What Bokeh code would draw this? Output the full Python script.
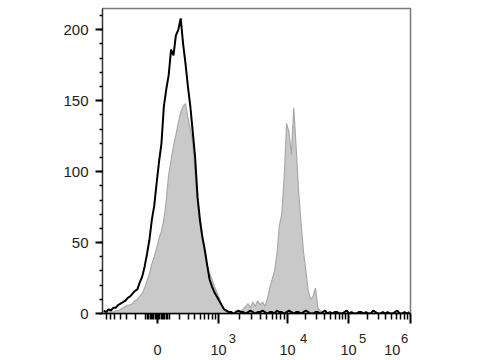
import numpy as np
from bokeh.plotting import figure
from bokeh.models import Range1d, FixedTicker, SingleIntervalTicker, ColumnDataSource, LinearAxis
from bokeh.embed import file_html
from bokeh.resources import INLINE

# ---------------- data (counts per display bin, 128 bins across the axis) ----------------
isotype_counts = [
    2, 1, 3, 2, 4, 4, 6, 7, 8, 9,
    11, 12, 14, 16, 17, 22, 26, 33, 42, 52,
    66, 76, 92, 107, 120, 146, 158, 168, 186, 182,
    196, 200, 208, 190, 176, 160, 146, 128, 110, 82,
    66, 54, 45, 34, 24, 19, 15, 12, 9, 6,
    3, 2, 1, 1, 0, 1, 2, 1, 1, 0,
    1, 2, 1, 0, 1, 1, 2, 1, 0, 1,
    1, 0, 2, 1, 1, 0, 1, 2, 1, 0,
    1, 1, 0, 1, 2, 1, 0, 0, 1, 1,
    0, 1, 2, 0, 1, 0, 1, 1, 0, 0,
    1, 2, 0, 1, 0, 0, 1, 1, 0, 1,
    0, 0, 2, 1, 0, 0, 1, 0, 1, 0,
    0, 1, 2, 0, 0, 1, 0, 1,
]
stained_counts = [
    0, 0, 1, 1, 1, 2, 2, 3, 4, 5,
    6, 6, 7, 9, 10, 12, 14, 18, 23, 28,
    35, 40, 46, 53, 58, 66, 80, 98, 108, 118,
    126, 134, 142, 146, 148, 138, 130, 120, 98, 78,
    62, 52, 42, 34, 28, 24, 19, 15, 11, 6,
    3, 1, 0, 1, 0, 2, 1, 2, 3, 5,
    7, 4, 8, 5, 9, 6, 8, 5, 10, 18,
    24, 30, 42, 62, 70, 96, 134, 128, 112, 145,
    116, 86, 64, 44, 30, 16, 10, 12, 18, 4,
    2, 1, 0, 0, 1, 0, 0, 0, 1, 0,
    0, 0, 0, 1, 0, 0, 0, 0, 0, 0,
    0, 0, 0, 0, 0, 0, 0, 0, 0, 0,
    0, 0, 0, 0, 0, 0, 0, 0,
]
tick_values = [0, 1e3, 1e4, 1e5, 1e6]
tick_bases = ["0", "10", "10", "10", "10"]
tick_exponents = ["", "3", "4", "5", "6"]

# ---------------- biexponential-like display scale (channels 0..256) ----------------
N_CH = 256.0
ZERO_CH = 45.7
DECADES = [3, 4, 5, 6]
DECADE_CH = [96.4, 153.8, 204.5, 256.0]


def to_channel(v):
    v = float(v)
    if abs(v) < 1000:
        return ZERO_CH + (DECADE_CH[0] - ZERO_CH) * np.arcsinh(v / 224.0) / np.arcsinh(1000.0 / 224.0)
    return float(np.interp(np.log10(v), DECADES, DECADE_CH))


n_bins = len(stained_counts)
centers = (np.arange(n_bins) + 0.5) * N_CH / n_bins

src = ColumnDataSource(dict(x=centers, stained=stained_counts, isotype=isotype_counts,
                            zero=np.zeros(n_bins)))

Y_MAX = 215
FRAME_W = 308
p = figure(width=480, height=360, output_backend="svg", toolbar_location=None,
           x_range=Range1d(0, N_CH), y_range=Range1d(0, Y_MAX))
p.min_border_left = 102
p.min_border_right = 70
p.min_border_top = 8
p.min_border_bottom = 47
p.background_fill_color = "white"
p.border_fill_color = "white"
p.outline_line_color = "#7a7a7a"
p.outline_line_width = 1.5
p.xgrid.visible = False
p.ygrid.visible = False

p.varea(x="x", y1="zero", y2="stained", source=src, fill_color="#c9c9c9")
p.line(x="x", y="stained", source=src, line_color="#a9a9a9", line_width=1.2)
p.line(x="x", y="isotype", source=src, line_color="black", line_width=2)

# ---------------- x axis: ticks + bases ----------------
major_x = [to_channel(v) for v in tick_values]
minor_x = [to_channel(v) for v in range(-80, 90, 10) if v != 0]
minor_x += [to_channel(v) for v in range(-700, 0, 100)]
minor_x += [to_channel(v) for v in range(100, 1000, 100)]
for d in (3, 4, 5):
    minor_x += [to_channel(m * 10 ** d) for m in range(2, 10)]

NBSP = "\u00a0"
label_pad = {1e6: 9}   # last label sits left of its tick, as in the reference
overrides = {}
for v, b in zip(tick_values, tick_bases):
    overrides[to_channel(v)] = b + NBSP * label_pad.get(v, 0)

xax = p.xaxis[0]
xax.ticker = FixedTicker(ticks=major_x, minor_ticks=minor_x)
xax.major_label_overrides = overrides
xax.major_label_text_font = "Liberation Sans"
xax.major_label_text_font_size = "14.5px"
xax.major_label_text_color = "#222222"
xax.major_label_standoff = 18
xax.axis_line_color = "black"
xax.axis_line_width = 1.5
xax.major_tick_out = 10
xax.major_tick_in = 0
xax.minor_tick_out = 6
xax.minor_tick_in = 0
xax.major_tick_line_width = 2
xax.minor_tick_line_width = 1.5
xax.major_tick_line_color = "black"
xax.minor_tick_line_color = "black"

# ---------------- x axis: superscript exponents (label-only axis) ----------------
ch_per_px = N_CH / FRAME_W
exp_px_offset = {1e3: 14, 1e4: 16, 1e5: 14, 1e6: -6}
exp_pos = [to_channel(v) + exp_px_offset[v] * ch_per_px for v in tick_values[1:]]
exp_axis = LinearAxis(ticker=FixedTicker(ticks=exp_pos, minor_ticks=[]),
                      major_label_overrides={pos: e for pos, e in zip(exp_pos, tick_exponents[1:])})
exp_axis.axis_line_color = None
exp_axis.major_tick_line_color = None
exp_axis.minor_tick_line_color = None
exp_axis.major_tick_out = 0
exp_axis.major_tick_in = 0
exp_axis.minor_tick_out = 0
exp_axis.minor_tick_in = 0
exp_axis.major_label_text_font = "Liberation Sans"
exp_axis.major_label_text_font_size = "13px"
exp_axis.major_label_text_color = "#222222"
exp_axis.major_label_standoff = -27
p.add_layout(exp_axis, "below")

# ---------------- y axis ----------------
yax = p.yaxis[0]
yax.ticker = SingleIntervalTicker(interval=50, num_minor_ticks=5)
yax.axis_line_color = "#333333"
yax.axis_line_width = 1.2
yax.major_tick_out = 7
yax.major_tick_in = 0
yax.minor_tick_out = 3
yax.minor_tick_in = 0
yax.major_tick_line_width = 2
yax.minor_tick_line_width = 1.5
yax.major_tick_line_color = "black"
yax.minor_tick_line_color = "black"
yax.major_label_text_font = "Liberation Sans"
yax.major_label_text_font_size = "15px"
yax.major_label_text_color = "#222222"
yax.major_label_standoff = 7

open("out.html", "w").write(file_html(p, INLINE))
